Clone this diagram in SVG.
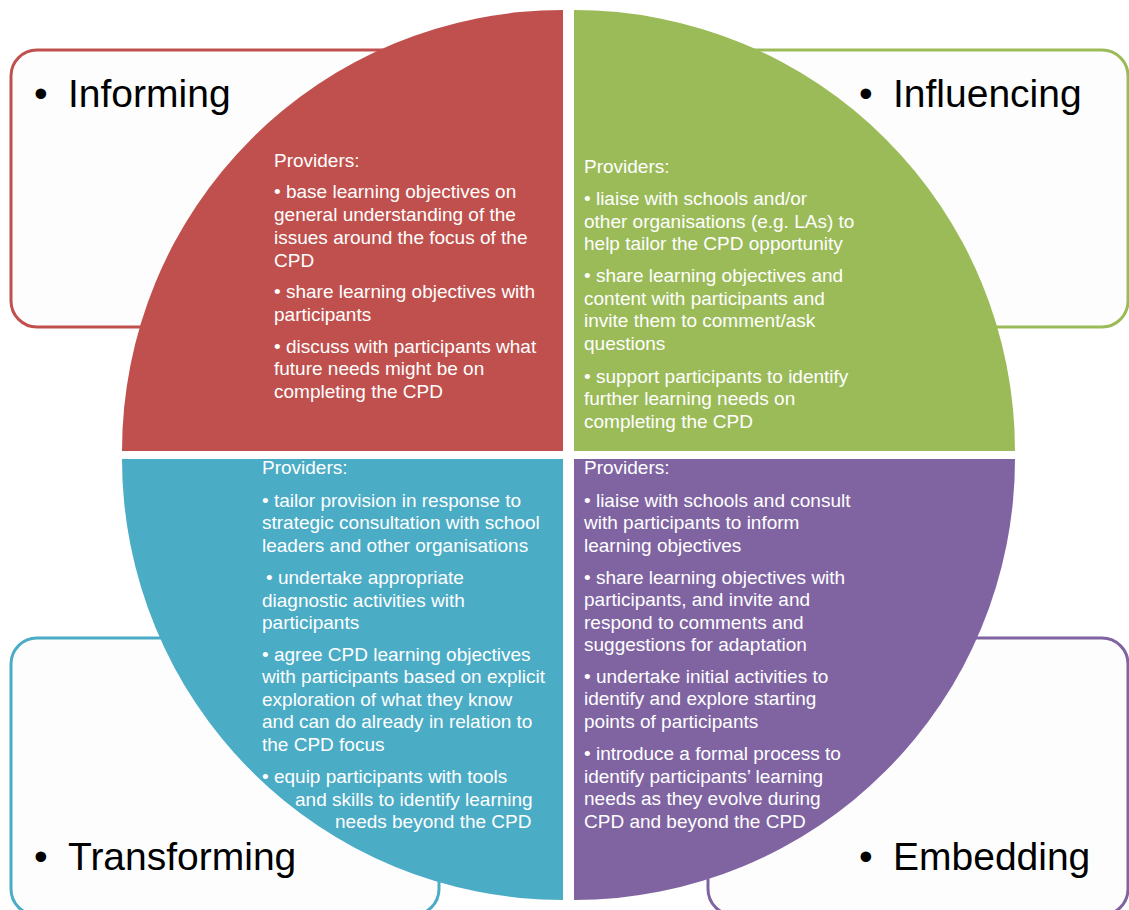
<svg xmlns="http://www.w3.org/2000/svg" width="1129" height="910" viewBox="0 0 1129 910">
<style>
.box{fill:#fdfdfd;stroke-width:3}
.title{font-family:"Liberation Sans",Arial,sans-serif;font-size:39px;fill:#000}
.body{font-family:"Liberation Sans",Arial,sans-serif;font-size:19px;fill:#fff}
</style>
<rect width="1129" height="910" fill="#fff"/>
<g id="informing">
<rect class="box" x="11" y="50" width="420" height="277" rx="26" stroke="#c0504d"/>
<text class="title" x="34" y="107">•</text>
<text class="title" x="68" y="107">Informing</text>
<path d="M563,451 L122,451 A441,441 0 0 1 563,10 Z" fill="#c0504d"/>
<text class="body">
<tspan x="274" y="167">Providers:</tspan>
<tspan x="274" y="198">• base learning objectives on</tspan>
<tspan x="274" y="221">general understanding of the</tspan>
<tspan x="274" y="244">issues around the focus of the</tspan>
<tspan x="274" y="267">CPD</tspan>
<tspan x="274" y="298">• share learning objectives with</tspan>
<tspan x="274" y="321">participants</tspan>
<tspan x="274" y="353">• discuss with participants what</tspan>
<tspan x="274" y="375">future needs might be on</tspan>
<tspan x="274" y="398">completing the CPD</tspan>
</text>
</g>
<g id="influencing">
<rect class="box" x="700" y="50" width="428" height="277" rx="26" stroke="#9bbb59"/>
<text class="title" x="859" y="107">•</text>
<text class="title" x="893" y="107">Influencing</text>
<path d="M574,451 L574,10 A441,441 0 0 1 1015,451 Z" fill="#9bbb59"/>
<text class="body">
<tspan x="584" y="173">Providers:</tspan>
<tspan x="584" y="205">• liaise with schools and/or</tspan>
<tspan x="584" y="228">other organisations (e.g. LAs) to</tspan>
<tspan x="584" y="250">help tailor the CPD opportunity</tspan>
<tspan x="584" y="282">• share learning objectives and</tspan>
<tspan x="584" y="305">content with participants and</tspan>
<tspan x="584" y="327">invite them to comment/ask</tspan>
<tspan x="584" y="350">questions</tspan>
<tspan x="584" y="383">• support participants to identify</tspan>
<tspan x="584" y="405">further learning needs on</tspan>
<tspan x="584" y="428">completing the CPD</tspan>
</text>
</g>
<g id="transforming">
<rect class="box" x="11" y="638" width="428" height="277" rx="26" stroke="#4bacc6"/>
<text class="title" x="34" y="870">•</text>
<text class="title" x="68" y="870">Transforming</text>
<path d="M563,459 L563,900 A441,441 0 0 1 122,459 Z" fill="#4bacc6"/>
<text class="body">
<tspan x="262" y="474">Providers:</tspan>
<tspan x="262" y="507">• tailor provision in response to</tspan>
<tspan x="262" y="529">strategic consultation with school</tspan>
<tspan x="262" y="552">leaders and other organisations</tspan>
<tspan x="266" y="584">• undertake appropriate</tspan>
<tspan x="262" y="607">diagnostic activities with</tspan>
<tspan x="262" y="629">participants</tspan>
<tspan x="262" y="661">• agree CPD learning objectives</tspan>
<tspan x="262" y="683">with participants based on explicit</tspan>
<tspan x="262" y="706">exploration of what they know</tspan>
<tspan x="262" y="728">and can do already in relation to</tspan>
<tspan x="262" y="751">the CPD focus</tspan>
<tspan x="262" y="783">• equip participants with tools</tspan>
<tspan x="295" y="806">and skills to identify learning</tspan>
<tspan x="335" y="828">needs beyond the CPD</tspan>
</text>
</g>
<g id="embedding">
<rect class="box" x="708" y="638" width="420" height="277" rx="26" stroke="#8064a2"/>
<text class="title" x="859" y="870">•</text>
<text class="title" x="893" y="870">Embedding</text>
<path d="M574,459 L1015,459 A441,441 0 0 1 574,900 Z" fill="#8064a2"/>
<text class="body">
<tspan x="584" y="474">Providers:</tspan>
<tspan x="584" y="507">• liaise with schools and consult</tspan>
<tspan x="584" y="529">with participants to inform</tspan>
<tspan x="584" y="552">learning objectives</tspan>
<tspan x="584" y="584">• share learning objectives with</tspan>
<tspan x="584" y="606">participants, and invite and</tspan>
<tspan x="584" y="629">respond to comments and</tspan>
<tspan x="584" y="651">suggestions for adaptation</tspan>
<tspan x="584" y="683">• undertake initial activities to</tspan>
<tspan x="584" y="705">identify and explore starting</tspan>
<tspan x="584" y="728">points of participants</tspan>
<tspan x="584" y="760">• introduce a formal process to</tspan>
<tspan x="584" y="783">identify  participants’  learning</tspan>
<tspan x="584" y="805">needs as they evolve during</tspan>
<tspan x="584" y="828">CPD and beyond the CPD</tspan>
</text>
</g>
<g id="connectors"/>
</svg>
